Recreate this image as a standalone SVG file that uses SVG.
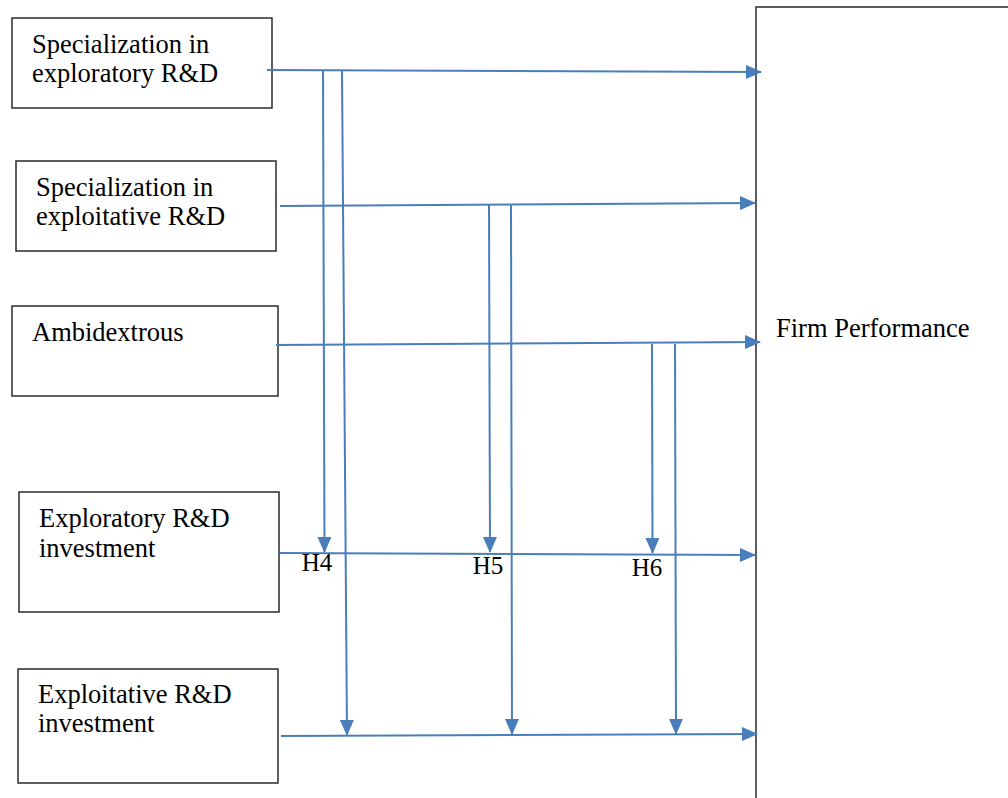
<svg xmlns="http://www.w3.org/2000/svg" width="1008" height="798" viewBox="0 0 1008 798">
<style>
.box{fill:#fff;stroke:#2a2a2a;stroke-width:1.5}
.t{font-family:"Liberation Serif","Times New Roman",serif;font-size:26.5px;fill:#000}
.c{fill:none;stroke:#4a7ebb;stroke-width:2}
</style>
<defs>
<marker id="ah" markerUnits="userSpaceOnUse" markerWidth="16" markerHeight="14" refX="15" refY="7" orient="auto">
<path d="M0,0 L16,7 L0,14 Z" fill="#4a7ebb"/>
</marker>
</defs>
<rect width="1008" height="798" fill="#fff"/>
<g id="firm-performance">
<rect class="box" x="756" y="7" width="260" height="800"/>
<text class="t" x="776" y="337">Firm Performance</text>
</g>
<g id="spec-exploratory">
<rect class="box" x="12" y="18" width="260" height="90"/>
<text class="t" x="32" y="53">Specialization in</text>
<text class="t" x="32" y="82">exploratory R&amp;D</text>
</g>
<g id="spec-exploitative">
<rect class="box" x="16" y="161" width="260" height="90"/>
<text class="t" x="36" y="196">Specialization in</text>
<text class="t" x="36" y="225">exploitative R&amp;D</text>
</g>
<g id="ambidextrous">
<rect class="box" x="12" y="306" width="266" height="90"/>
<text class="t" x="32" y="341">Ambidextrous</text>
</g>
<g id="exploratory-investment">
<rect class="box" x="19" y="492" width="260" height="120"/>
<text class="t" x="39" y="527">Exploratory R&amp;D</text>
<text class="t" x="39" y="557">investment</text>
</g>
<g id="exploitative-investment">
<rect class="box" x="18" y="669" width="260" height="114"/>
<text class="t" x="38" y="703">Exploitative R&amp;D</text>
<text class="t" x="38" y="732">investment</text>
</g>
<g id="connectors">
<path class="c" d="M267,70 L761,72" marker-end="url(#ah)"/>
<path class="c" d="M280,206 L755,203" marker-end="url(#ah)"/>
<path class="c" d="M276,345 L760,342" marker-end="url(#ah)"/>
<path class="c" d="M280,553 L755,555" marker-end="url(#ah)"/>
<path class="c" d="M281,736 L757,734" marker-end="url(#ah)"/>
<path class="c" d="M323,70 L324.5,552" marker-end="url(#ah)"/>
<path class="c" d="M342,70 L347,735" marker-end="url(#ah)"/>
<path class="c" d="M489,205 L490,552" marker-end="url(#ah)"/>
<path class="c" d="M511,205 L512,734" marker-end="url(#ah)"/>
<path class="c" d="M652,344 L652.5,553" marker-end="url(#ah)"/>
<path class="c" d="M675,344 L676,734" marker-end="url(#ah)"/>
<text class="t" x="317" y="571" text-anchor="middle" style="font-size:25px">H4</text>
<text class="t" x="488" y="574" text-anchor="middle" style="font-size:25px">H5</text>
<text class="t" x="647" y="576" text-anchor="middle" style="font-size:25px">H6</text>
</g>
</svg>
